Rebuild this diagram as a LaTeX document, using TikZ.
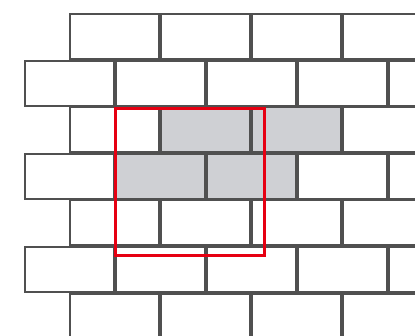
\documentclass[tikz,border=0pt]{standalone}
\usepackage{tikz}
\definecolor{WallGray}{RGB}{80,80,80}
\definecolor{FillGray}{RGB}{207,208,212}
\definecolor{FrameRed}{RGB}{230,0,18}

\begin{document}
\begin{tikzpicture}[x=1pt,y=-1pt,
  brick/.style={draw=WallGray,line width=2pt,fill=white,minimum width=89pt,minimum height=45pt,inner sep=0pt,anchor=north west},
  shaded/.style={brick,fill=FillGray}]
\useasboundingbox (0,0) rectangle (415,335);
\clip (0,0) rectangle (415,335);
% long rows
\foreach \r in {0,2,4,6}{
  \foreach \c in {0,...,4}{
    \node[brick] (b\r-\c) at (69+91*\c,13+46.6*\r) {};
  }
}
% offset rows
\foreach \r in {1,3,5}{
  \foreach \c in {0,...,4}{
    \node[brick] (b\r-\c) at (24+91*\c,13+46.6*\r) {};
  }
}
% marked bricks
\foreach \r/\c in {2/1,2/2,3/1,3/2}{
  \node[shaded] (s\r-\c) at (b\r-\c.north west) {};
}
% frame
\coordinate (f1) at (115,108);
\coordinate (f2) at (264,255);
\draw[FrameRed,line width=3pt] (f1) rectangle (f2);
\end{tikzpicture}
\end{document}
